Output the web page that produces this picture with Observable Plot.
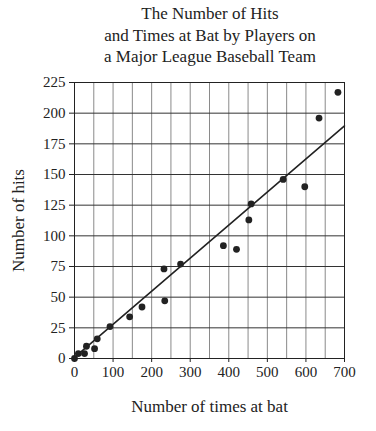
<!DOCTYPE html>
<html>
<head>
<meta charset="utf-8">
<script src="https://cdn.jsdelivr.net/npm/d3@7"></script>
<script src="https://cdn.jsdelivr.net/npm/@observablehq/plot@0.6"></script>
<style>
  html, body { margin: 0; padding: 0; background: #fff; }
  #title { width: 332px; padding-left: 44px; text-align: center; font-family: "Liberation Serif", serif; font-size: 17px; line-height: 21.5px; color: #222; height: 68px; box-sizing: content-box; padding-top: 3px; }
  svg { display: block; }
  #chart svg g[aria-label='x-axis tick label'] text,
  #chart svg g[aria-label='y-axis tick label'] text { font-size: 15px; }
  #chart svg g[aria-label='x-axis label'] text,
  #chart svg g[aria-label='y-axis label'] text { font-size: 17px; }
</style>
</head>
<body>
<div id="title">The Number of Hits<br>and Times at Bat by Players on<br>a Major League Baseball Team</div>
<div id="chart"></div>
<script>
const atBats = [0, 10, 26, 31, 52, 59, 92, 143, 175, 232, 234, 275, 386, 420, 452, 458, 541, 597, 634, 683];
const hits   = [0, 4, 4, 10, 8, 16, 26, 34, 42, 73, 47, 77, 92, 89, 113, 126, 146, 140, 196, 217];
const fitX = [0, 700];
const fitY = [1, 189.6];
const xTicks = [0, 100, 200, 300, 400, 500, 600, 700];
const yTicks = [0, 25, 50, 75, 100, 125, 150, 175, 200, 225];
const xGrid = [50, 100, 150, 200, 250, 300, 350, 400, 450, 500, 550, 600, 650];
const yGrid = [25, 50, 75, 100, 125, 150, 175, 200];

const points = atBats.map((x, i) => ({x, y: hits[i]}));
const fit = fitX.map((x, i) => ({x, y: fitY[i]}));

const chart = Plot.plot({
  width: 376,
  height: 360,
  marginTop: 11,
  marginLeft: 74,
  marginRight: 32,
  marginBottom: 73,
  style: { fontFamily: "Liberation Serif, serif", fontSize: "15px", color: "#222", background: "#fff" },
  x: { domain: [0, 700] },
  y: { domain: [0, 225] },
  marks: [
    Plot.gridX(xGrid, { stroke: "#8a8a8a", strokeOpacity: 1, strokeWidth: 1 }),
    Plot.gridY(yGrid, { stroke: "#333", strokeOpacity: 1, strokeWidth: 1 }),
    Plot.frame({ stroke: "#222", strokeWidth: 1 }),
    Plot.axisX({ ticks: xTicks, tickSize: 4, tickPadding: 4, label: "Number of times at bat", labelAnchor: "center", labelOffset: 53, labelArrow: "none" }),
    Plot.axisY({ ticks: yTicks, tickSize: 5, tickPadding: 4, label: "Number of hits", labelAnchor: "center", labelOffset: 63, labelArrow: "none" }),
    Plot.line(fit, { x: "x", y: "y", stroke: "#222", strokeWidth: 1.6 }),
    Plot.dot(points, { x: "x", y: "y", r: 3.4, fill: "#222", stroke: "none" })
  ]
});
document.getElementById("chart").appendChild(chart);
</script>
</body>
</html>
